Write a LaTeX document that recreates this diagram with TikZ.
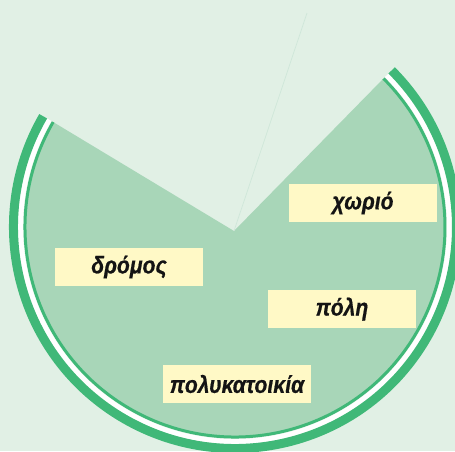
\documentclass[tikz,border=0pt]{standalone}
\usepackage{fontspec}
\usepackage{tikz}
\newfontfamily\wordfont{Liberation Sans}[FakeStretch=0.88, FakeBold=0.6]
\definecolor{mintbg}{HTML}{E1F0E5}
\definecolor{piefill}{HTML}{A8D6B8}
\definecolor{rimgreen}{HTML}{40B878}
\definecolor{faintline}{HTML}{CFE7D9}
\definecolor{cardyellow}{HTML}{FFF9C6}

\begin{document}
\begin{tikzpicture}[x=1pt, y=1pt,
    pie/.style={fill=piefill},
    rim/.style={draw=rimgreen},
    card/.style={rectangle, fill=cardyellow, minimum width=148pt, minimum height=38pt, inner sep=0pt,
      text=black!92, font=\wordfont\bfseries\itshape\fontsize{24}{24}\selectfont}]

\useasboundingbox (0,0) rectangle (455,-451);
\fill [mintbg] (0,0) rectangle (455,-451);

\coordinate (centre) at (235,-227);
\coordinate (tip) at (234,-231);
\coordinate (ray) at (307,-13);

\fill [pie] (tip) -- ([shift={(150:210)}]centre) arc[start angle=150, end angle=405, radius=210] -- cycle;
\draw [faintline, line width=0.7pt] (tip) -- (ray);

\draw [rim, line width=3pt] ([shift={(150:210)}]centre) arc[start angle=150, end angle=405, radius=210];
\draw [white, line width=5pt] ([shift={(150:214.5)}]centre) arc[start angle=150, end angle=405, radius=214.5];
\draw [rim, line width=9pt] ([shift={(150:221.5)}]centre) arc[start angle=150, end angle=405, radius=221.5];

\node [card] (village) at (363,-203) {χωριό};
\node [card] (road) at (129,-267) {δρόμος};
\node [card] (city) at (342,-309) {πόλη};
\node [card] (block) at (237,-384) {πολυκατοικία};

\end{tikzpicture}
\end{document}
